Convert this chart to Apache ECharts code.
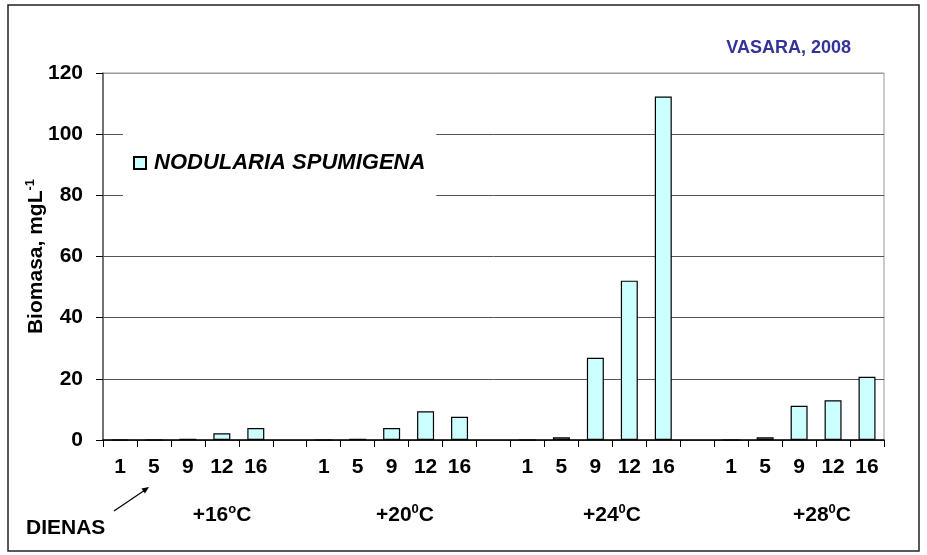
<!DOCTYPE html>
<html>
<head>
<meta charset="utf-8">
<script src="https://cdn.jsdelivr.net/npm/echarts@6/dist/echarts.min.js"></script>
<style>html,body{margin:0;padding:0;background:#fff}#c{width:927px;height:555px}</style>
</head>
<body>
<div id="c"></div>
<script>
var days = ['1', '5', '9', '12', '16'];
var groupTemps = ['+16', '+20', '+24', '+28'];
var groupSup = ['o', '0', '0', '0'];
var values16 = [0, 0, 0.4, 2.2, 3.9];
var values20 = [0, 0.4, 3.9, 9.4, 7.6];
var values24 = [0, 0.9, 26.9, 52.1, 112.3];
var values28 = [0, 0.9, 11.2, 13.0, 20.7];
var yTicks = [0, 20, 40, 60, 80, 100, 120];
var seriesName = 'NODULARIA SPUMIGENA';
var titleText = 'VASARA, 2008';
var yName = 'Biomasa, mgL';
var ySup = '-1';
var dayWord = 'DIENAS';

var groupValues = [values16, values20, values24, values28];
var cats = [], data = [];
groupValues.forEach(function (vals, g) {
  if (g > 0) { cats.push('gap' + g); data.push('-'); }
  days.forEach(function (d, i) { cats.push(groupTemps[g] + '|' + d); data.push(vals[i]); });
});

var FONT = 'Arial, "Liberation Sans", sans-serif';
var chart = echarts.init(document.getElementById('c'), null, {renderer: 'canvas'});

var groupCenters = [222, 405, 612, 822];
var graphics = [
  {type: 'rect', shape: {x: 8, y: 5, width: 911, height: 546}, style: {fill: 'none', stroke: '#222', lineWidth: 1.5}, silent: true},
  {type: 'text', x: 26, y: 528, style: {text: dayWord, font: 'bold 21px ' + FONT, fill: '#000', align: 'left', verticalAlign: 'middle'}},
  {type: 'line', shape: {x1: 114, y1: 511, x2: 145, y2: 490}, style: {stroke: '#000', lineWidth: 1.2}},
  {type: 'polygon', shape: {points: [[149, 487], [144.9, 493.5], [141.5, 488.5]]}, style: {fill: '#000'}}
];
groupTemps.forEach(function (t, g) {
  graphics.push({
    type: 'text', x: groupCenters[g], y: 515,
    style: {
      text: '{a|' + t + '}{s|' + groupSup[g] + '}{a|C}',
      align: 'center', verticalAlign: 'middle',
      rich: {
        a: {fontFamily: FONT, fontWeight: 'bold', fontSize: 21, fill: '#000', color: '#000', lineHeight: 24},
        s: {fontFamily: FONT, fontWeight: 'bold', fontSize: 13, fill: '#000', color: '#000', verticalAlign: 'top', lineHeight: 24}
      }
    }
  });
});

chart.setOption({
  animation: false,
  backgroundColor: '#fff',
  title: {
    text: titleText, right: 71, top: 34,
    textStyle: {color: '#333399', fontFamily: FONT, fontWeight: 'bold', fontSize: 18}
  },
  legend: {
    data: [seriesName], left: 123, top: 129,
    padding: [23, 11, 23, 10],
    backgroundColor: '#fff',
    itemWidth: 12, itemHeight: 12, icon: 'rect', itemGap: 0,
    textStyle: {fontFamily: FONT, fontWeight: 'bold', fontStyle: 'italic', fontSize: 22, color: '#000', padding: [0, 0, 0, 3]}
  },
  grid: {left: 103, right: 43, top: 73, bottom: 115, show: true, borderColor: '#999', borderWidth: 1, backgroundColor: 'transparent'},
  xAxis: {
    type: 'category', data: cats, boundaryGap: true,
    axisLine: {lineStyle: {color: '#000', width: 1.5}},
    axisTick: {show: true, length: 7, lineStyle: {color: '#000'}},
    axisLabel: {
      interval: 0, margin: 17, color: '#000', fontFamily: FONT, fontWeight: 'bold', fontSize: 21,
      formatter: function (v) { return v.indexOf('|') < 0 ? '' : v.split('|')[1]; }
    },
    splitLine: {show: false}
  },
  yAxis: {
    type: 'value', min: 0, max: 120, interval: 20,
    name: '{n|' + yName + '}{s|' + ySup + '}',
    nameLocation: 'middle', nameGap: 55, nameRotate: 90, nameMoveOverlap: false,
    nameTextStyle: {
      rich: {
        n: {fontFamily: FONT, fontWeight: 'bold', fontSize: 21, color: '#000', lineHeight: 24},
        s: {fontFamily: FONT, fontWeight: 'bold', fontSize: 13, color: '#000', verticalAlign: 'top', lineHeight: 24}
      }
    },
    axisLine: {show: true, lineStyle: {color: '#555', width: 1.5}},
    axisTick: {show: true, length: 7, lineStyle: {color: '#000'}},
    axisLabel: {margin: 20, color: '#000', fontFamily: FONT, fontWeight: 'bold', fontSize: 21,
      formatter: function (v) { return yTicks.indexOf(v) >= 0 ? String(v) : ''; }},
    splitLine: {show: true, lineStyle: {color: ['#555', '#555', '#555', '#555', '#555', '#555', '#999'], width: 1}}
  },
  series: [{
    name: seriesName, type: 'bar', data: data, barWidth: '50%',
    itemStyle: {color: '#CCFFFF', borderColor: '#000', borderWidth: 1.2}
  }],
  graphic: graphics
});
</script>
</body>
</html>
